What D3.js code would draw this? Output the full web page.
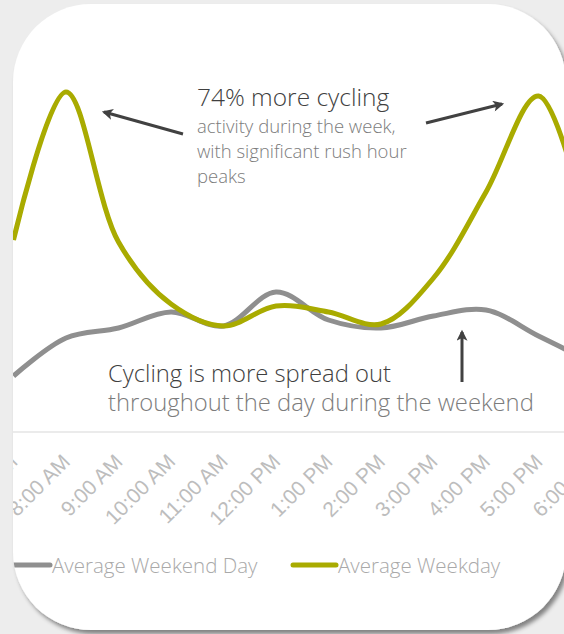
<!DOCTYPE html>
<html lang="en">
	<head>
		<meta charset="utf-8">
		<script src="https://d3js.org/d3.v7.min.js"></script>
		<title>Weekday vs Weekend Cycling</title>
		<style>
			body { margin:0; background:#ededed; }
			svg { display:block; font-family:"Open Sans", "Noto Sans", sans-serif; }
			.tick text { fill:#bdbdbd; font-size:21px; font-weight:300; }
			.domain { stroke:#e4e4e4; stroke-width:1.5px; }
			.arrow { stroke:#414141; stroke-width:3px; }
		</style>
	</head>
	<body>
		<script type="text/javascript">

		// hourly averages (riders)
		var hours = ["7:00 AM","8:00 AM","9:00 AM","10:00 AM","11:00 AM","12:00 PM",
			"1:00 PM","2:00 PM","3:00 PM","4:00 PM","5:00 PM","6:00 PM"];
		var weekday = [96, 170, 95, 64, 53, 63, 60, 54, 77, 120, 168, 94];
		var weekend = [28, 47, 52, 60, 53, 70, 56, 52, 58, 61, 48, 35];
		var seriesNames = ["Average Weekend Day", "Average Weekday"];
		var seriesColors = ["#8f8f8f", "#a9ab00"];

		var noteTop = ["74% more cycling", "activity during the week,", "with significant rush hour", "peaks"];
		var noteBottom = ["Cycling is more spread out", "throughout the day during the weekend"];

		var width = 564,
			height = 634;

		var x = d3.scalePoint().domain(hours).range([13.5, 591]);
		var y = d3.scaleLinear().domain([0, 170]).range([432, 92]);

		var line = d3.line()
			.x(function(d, i) { return x(hours[i]); })
			.y(function(d) { return y(d); })
			.curve(d3.curveCatmullRom);

		var svg = d3.select("body").append("svg")
			.attr("width", width)
			.attr("height", height);

		var defs = svg.append("defs");

		defs.append("clipPath").attr("id", "card")
			.append("rect")
			.attr("x", 13).attr("y", 4)
			.attr("width", 553).attr("height", 626)
			.attr("rx", 78).attr("ry", 78);

		var shadow = defs.append("filter").attr("id", "shadow")
			.attr("x", "-10%").attr("y", "-10%").attr("width", "120%").attr("height", "120%");
		shadow.append("feDropShadow")
			.attr("dx", 3).attr("dy", 4).attr("stdDeviation", 2)
			.attr("flood-color", "#000").attr("flood-opacity", 0.45);

		defs.append("marker").attr("id", "head")
			.attr("viewBox", "0 0 10 10")
			.attr("refX", 8).attr("refY", 5)
			.attr("markerWidth", 13).attr("markerHeight", 11)
			.attr("markerUnits", "userSpaceOnUse")
			.attr("orient", "auto")
			.append("path")
			.attr("d", "M0,0L10,5L0,10L2.5,5Z")
			.attr("fill", "#414141");

		svg.append("rect")
			.attr("width", width).attr("height", height)
			.attr("fill", "#ededed");

		svg.append("rect")
			.attr("x", 13).attr("y", 4)
			.attr("width", 553).attr("height", 626)
			.attr("rx", 78).attr("ry", 78)
			.attr("fill", "#fff")
			.attr("filter", "url(#shadow)");

		var g = svg.append("g").attr("clip-path", "url(#card)");

		// category axis
		var axis = g.append("g")
			.attr("transform", "translate(0,432)")
			.call(d3.axisBottom(x).tickSize(0).tickSizeOuter(0));

		axis.select(".domain").attr("d", "M13,0H566");
		axis.selectAll(".tick text")
			.attr("x", 0).attr("y", 0).attr("dy", 0)
			.attr("text-anchor", "end")
			.attr("transform", "translate(5,31) rotate(-45)");

		// series, weekday drawn last
		g.selectAll(".series").data([weekend, weekday]).enter().append("path")
			.attr("class", "series")
			.attr("fill", "none")
			.attr("stroke", function(d, i) { return seriesColors[i]; })
			.attr("stroke-width", 5)
			.attr("stroke-linejoin", "round")
			.attr("d", line);

		// annotations
		var noteA = g.append("text");
		noteA.selectAll("tspan").data(noteTop).enter().append("tspan")
			.attr("x", 197)
			.attr("y", function(d, i) { return i == 0 ? 106 : 108 + i * 25; })
			.attr("font-size", function(d, i) { return i == 0 ? "24.5px" : "18.5px"; })
			.attr("font-weight", 300)
			.attr("fill", function(d, i) { return i == 0 ? "#3f3f3f" : "#7c7c7c"; })
			.text(function(d) { return d; });

		var noteB = g.append("text");
		noteB.selectAll("tspan").data(noteBottom).enter().append("tspan")
			.attr("x", 108)
			.attr("y", function(d, i) { return 382 + i * 29; })
			.attr("font-size", "23.8px")
			.attr("font-weight", 300)
			.attr("fill", function(d, i) { return i == 0 ? "#3f3f3f" : "#7c7c7c"; })
			.text(function(d) { return d; });

		var arrows = [[183, 134, 104, 112], [426, 123, 502, 104], [462, 382, 462, 332]];
		g.selectAll(".arrow").data(arrows).enter().append("line")
			.attr("class", "arrow")
			.attr("x1", function(d) { return d[0]; })
			.attr("y1", function(d) { return d[1]; })
			.attr("x2", function(d) { return d[2]; })
			.attr("y2", function(d) { return d[3]; })
			.attr("marker-end", "url(#head)");

		// legend
		var legend = g.selectAll(".legend").data(seriesNames).enter().append("g")
			.attr("class", "legend")
			.attr("transform", function(d, i) { return "translate(" + (i == 0 ? 7 : 293) + ",565)"; });

		legend.append("line")
			.attr("x1", 0).attr("x2", 43)
			.attr("stroke", function(d, i) { return seriesColors[i]; })
			.attr("stroke-width", 5)
			.attr("stroke-linecap", "round");

		legend.append("text")
			.attr("x", 45).attr("y", 8)
			.attr("font-size", "20.5px")
			.attr("font-weight", 300)
			.attr("fill", "#a9a9a9")
			.text(function(d) { return d; });

		</script>
	</body>
</html>
